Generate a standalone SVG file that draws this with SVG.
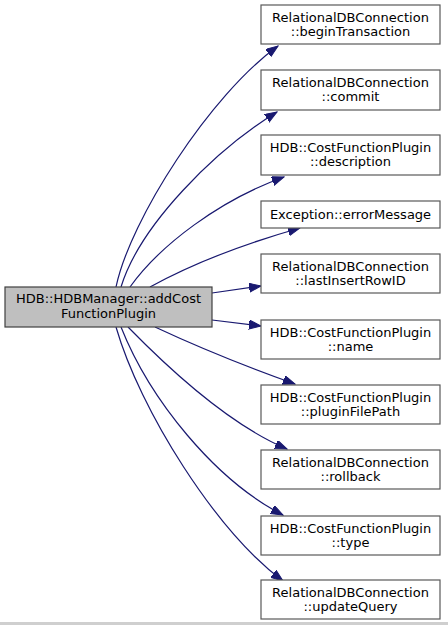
<svg xmlns="http://www.w3.org/2000/svg" width="448" height="627" viewBox="0 0 448 627">
<defs>
<style>
.node rect{fill:#ffffff;stroke:#595959;stroke-width:1.2}
#main rect{fill:#bfbfbf;stroke:#404040}
text{font-family:"DejaVu Sans",sans-serif;font-size:13px;fill:#000;text-anchor:middle}
.edge path{fill:none;stroke:#191970;stroke-width:1.2;marker-end:url(#arr)}
</style>
<marker id="arr" markerUnits="userSpaceOnUse" markerWidth="13" markerHeight="10" refX="12" refY="4.5" orient="auto">
<path d="M0,0 L12,4.5 L0,9 z" fill="#191970" stroke="#191970" stroke-width="1"/>
</marker>
</defs>
<rect x="0" y="0" width="448" height="627" fill="#ffffff"/>
<rect x="0" y="622" width="448" height="3" fill="#cfcfcf"/>
<g id="edges" class="edge">
<path d="M116,287 C130,220 210,95 278,46"/>
<path d="M121,287 C140,225 215,150 277,112"/>
<path d="M130,287 C160,245 220,200 284,177"/>
<path d="M150,287 C190,265 240,245 300,228"/>
<path d="M212,293 L261,286"/>
<path d="M212,320 L261,326"/>
<path d="M155,327 C200,348 250,368 295,384"/>
<path d="M128,327 C170,370 230,425 287,449"/>
<path d="M121,327 C150,400 215,480 283,515"/>
<path d="M116,327 C140,410 215,530 283,581"/>
</g>
<g id="main" class="node"><rect x="5" y="287" width="207" height="40"/><text x="108.5" y="303">HDB::HDBManager::addCost</text><text x="108.5" y="318">FunctionPlugin</text></g>
<g id="n1" class="node"><rect x="261" y="5" width="179" height="39"/><text x="350.5" y="21.5">RelationalDBConnection</text><text x="350.5" y="35.5">::beginTransaction</text></g>
<g id="n2" class="node"><rect x="261" y="70" width="179" height="40"/><text x="350.5" y="86.5">RelationalDBConnection</text><text x="350.5" y="100.5">::commit</text></g>
<g id="n3" class="node"><rect x="261" y="135" width="179" height="40"/><text x="350.5" y="151.5">HDB::CostFunctionPlugin</text><text x="350.5" y="165.5">::description</text></g>
<g id="n4" class="node"><rect x="261" y="201" width="179" height="27"/><text x="350.5" y="219">Exception::errorMessage</text></g>
<g id="n5" class="node"><rect x="261" y="254" width="179" height="39"/><text x="350.5" y="270.5">RelationalDBConnection</text><text x="350.5" y="284.5">::lastInsertRowID</text></g>
<g id="n6" class="node"><rect x="261" y="320" width="179" height="39"/><text x="350.5" y="336.5">HDB::CostFunctionPlugin</text><text x="350.5" y="350.5">::name</text></g>
<g id="n7" class="node"><rect x="261" y="385" width="179" height="39"/><text x="350.5" y="401.5">HDB::CostFunctionPlugin</text><text x="350.5" y="415.5">::pluginFilePath</text></g>
<g id="n8" class="node"><rect x="261" y="450" width="179" height="39"/><text x="350.5" y="466.5">RelationalDBConnection</text><text x="350.5" y="480.5">::rollback</text></g>
<g id="n9" class="node"><rect x="261" y="516" width="179" height="39"/><text x="350.5" y="532.5">HDB::CostFunctionPlugin</text><text x="350.5" y="546.5">::type</text></g>
<g id="n10" class="node"><rect x="261" y="580" width="179" height="39"/><text x="350.5" y="596.5">RelationalDBConnection</text><text x="350.5" y="610.5">::updateQuery</text></g>
</svg>
